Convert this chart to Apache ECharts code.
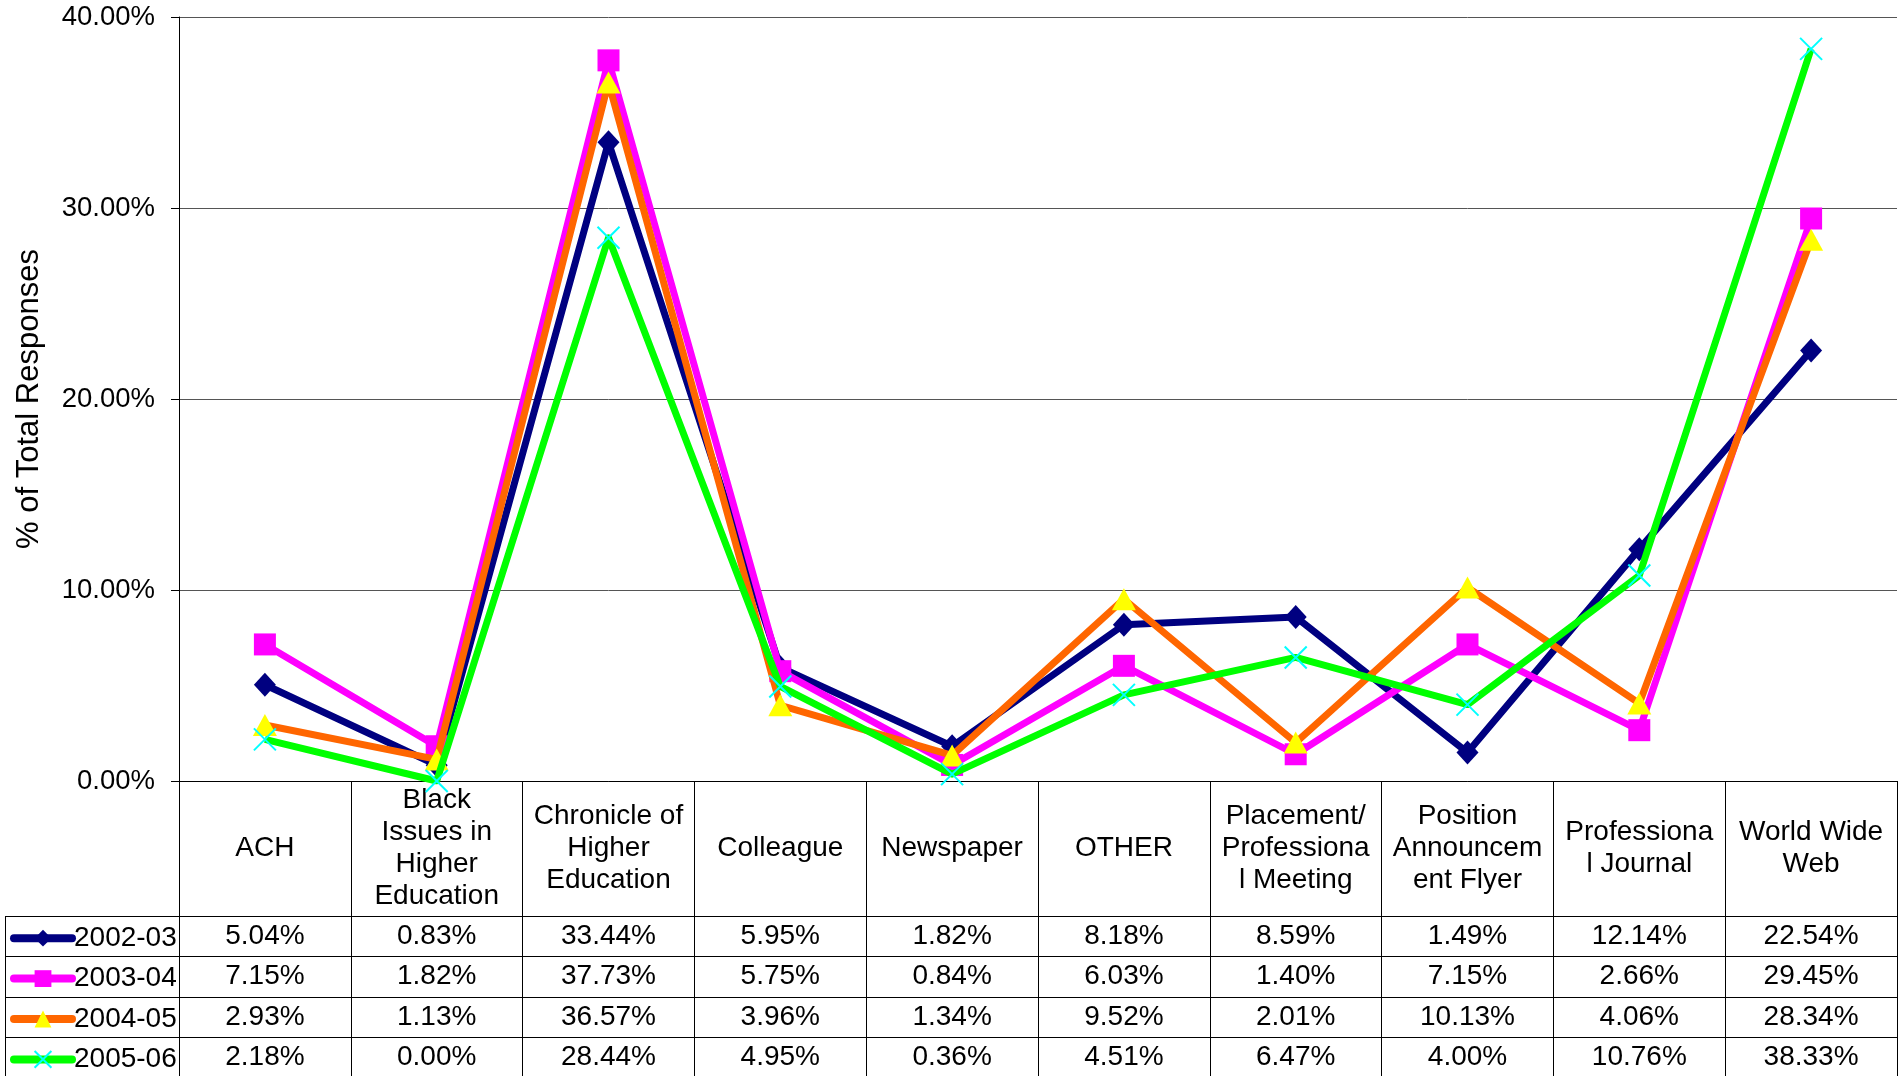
<!DOCTYPE html>
<html><head><meta charset="utf-8">
<script src="https://cdn.jsdelivr.net/npm/echarts@6/dist/echarts.min.js"></script>
<style>html,body{margin:0;padding:0;background:#fff}#c{width:1902px;height:1076px}</style>
</head><body><div id="c"></div>
<script>
const categories = ['ACH','Black Issues in Higher Education','Chronicle of Higher Education','Colleague','Newspaper','OTHER','Placement/Professional Meeting','Position Announcement Flyer','Professional Journal','World Wide Web'];
const headerLabels = ['ACH','Black\nIssues in\nHigher\nEducation','Chronicle of\nHigher\nEducation','Colleague','Newspaper','OTHER','Placement/\nProfessiona\nl Meeting','Position\nAnnouncem\nent Flyer','Professiona\nl Journal','World Wide\nWeb'];
const seriesNames = ['2002-03','2003-04','2004-05','2005-06'];
const values2002 = [5.04, 0.83, 33.44, 5.95, 1.82, 8.18, 8.59, 1.49, 12.14, 22.54];
const values2003 = [7.15, 1.82, 37.73, 5.75, 0.84, 6.03, 1.40, 7.15, 2.66, 29.45];
const values2004 = [2.93, 1.13, 36.57, 3.96, 1.34, 9.52, 2.01, 10.13, 4.06, 28.34];
const values2005 = [2.18, 0.00, 28.44, 4.95, 0.36, 4.51, 6.47, 4.00, 10.76, 38.33];
const yMin = 0, yMax = 40, yInterval = 10;
const yTitle = '% of Total Responses';

const allValues = [values2002, values2003, values2004, values2005];
const FONT = "'Liberation Sans', Arial, sans-serif";
const FS = 28, FS_TICK = 27.5, FS_TITLE = 31;
const GRID_LEFT = 179, GRID_RIGHT = 5, GRID_TOP = 17, AXIS_Y = 781;
const HEADER_H = 135, ROW_H = 40.4;
const W = 1902, H = 1076;

const lineColors = ['#000080', '#FF00FF', '#FF6600', '#00FF00'];
const symbols = ['diamond', 'rect', 'triangle', 'path://M0,0L10,10M10,0L0,10'];
const symbolSizes = [[22, 24], 22, [24, 22], 22];
const itemStyles = [
  {color: '#000080'},
  {color: '#FF00FF'},
  {color: '#FFFF00'},
  {color: 'rgba(0,0,0,0)', borderColor: '#00FFFF', borderWidth: 2}
];

const series = seriesNames.map((n, i) => ({
  name: n, type: 'line', data: allValues[i],
  symbol: symbols[i], symbolSize: symbolSizes[i],
  showAllSymbol: true,
  lineStyle: {color: lineColors[i], width: 7, join: 'round'},
  itemStyle: itemStyles[i],
  emphasis: {disabled: true},
  z: 2 + i
}));

const valueAxes = allValues.map((vals, i) => ({
  type: 'category', data: categories, position: 'bottom', offset: 0,
  axisLine: {show: false}, axisTick: {show: false}, splitLine: {show: false},
  axisLabel: {
    interval: 0, margin: HEADER_H + ROW_H * i + ROW_H / 2, verticalAlign: 'middle',
    color: '#000', fontFamily: FONT, fontSize: FS,
    formatter: (v, idx) => vals[idx].toFixed(2) + '%'
  }
}));

const legends = seriesNames.map((n, i) => ({
  data: [n], selectedMode: false, orient: 'horizontal', padding: 0,
  left: 10, top: AXIS_Y + HEADER_H + ROW_H * i + ROW_H / 2 - 12,
  itemWidth: 58, itemHeight: 21, itemGap: 0,
  lineStyle: {width: 8, cap: 'round'},
  textStyle: {color: '#000', fontFamily: FONT, fontSize: FS, padding: [0, 0, 0, -3]}
}));

const graphics = [];
for (let r = 0; r < 4; r++) {
  const y = Math.round(AXIS_Y + HEADER_H + ROW_H * r);
  graphics.push({type: 'line', shape: {x1: 5, y1: y + 0.5, x2: W - GRID_RIGHT, y2: y + 0.5}, style: {stroke: '#000', lineWidth: 1}, silent: true});
}
graphics.push({type: 'line', shape: {x1: 5.5, y1: AXIS_Y + HEADER_H, x2: 5.5, y2: H}, style: {stroke: '#000', lineWidth: 1}, silent: true});

const chart = echarts.init(document.getElementById('c'), null, {renderer: 'canvas'});
chart.setOption({
  animation: false,
  backgroundColor: '#fff',
  textStyle: {fontFamily: FONT},
  grid: {left: GRID_LEFT, right: GRID_RIGHT, top: GRID_TOP, bottom: H - AXIS_Y, containLabel: false, outerBoundsMode: 'none'},
  legend: legends,
  xAxis: [{
    type: 'category', data: categories, boundaryGap: true, position: 'bottom',
    axisLine: {show: true, lineStyle: {color: '#000', width: 1}},
    axisTick: {show: true, interval: 0, length: H - AXIS_Y, lineStyle: {color: '#000', width: 1}},
    splitLine: {show: false},
    axisLabel: {
      interval: 0, margin: HEADER_H / 2, verticalAlign: 'middle', lineHeight: 32,
      color: '#000', fontFamily: FONT, fontSize: FS,
      formatter: (v, idx) => headerLabels[idx]
    }
  }].concat(valueAxes),
  yAxis: {
    type: 'value', min: yMin, max: yMax, interval: yInterval,
    name: yTitle, nameLocation: 'middle', nameRotate: 90, nameGap: 134,
    nameTextStyle: {color: '#000', fontFamily: FONT, fontSize: FS_TITLE},
    axisLine: {show: true, lineStyle: {color: '#000', width: 1}},
    axisTick: {show: true, length: 8, lineStyle: {color: '#000'}},
    splitLine: {show: true, lineStyle: {color: '#555', width: 1}},
    axisLabel: {margin: 24, color: '#000', fontFamily: FONT, fontSize: FS_TICK, formatter: v => v.toFixed(2) + '%'}
  },
  series: series,
  graphic: graphics
});
</script></body></html>
